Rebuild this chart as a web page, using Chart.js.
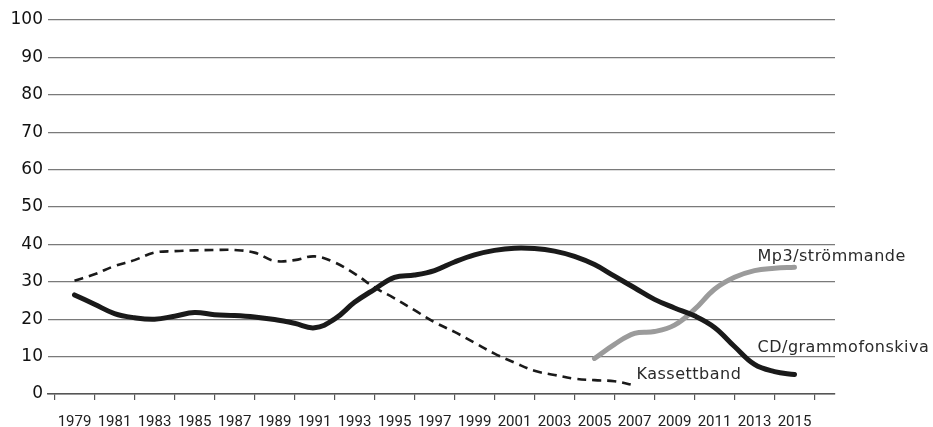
<!DOCTYPE html>
<html>
<head>
<meta charset="utf-8">
<script src="https://cdn.jsdelivr.net/npm/chart.js@4"></script>
<style>
    html, body { margin: 0; padding: 0; background: #fff; }
    #wrap { width: 933px; height: 427px; }
</style>
</head>
<body>
<div id="wrap"><canvas id="charts"></canvas></div>
<script>
// andel (%) per år
let cdStart = 1979
let cdShare = [26.5, 24.0, 21.5, 20.4, 20.0, 20.8, 21.8, 21.2, 21.0, 20.6,
    19.9, 18.9, 17.7, 20.0, 24.5, 28.0, 31.2, 31.8, 33.0, 35.3,
    37.2, 38.4, 39.0, 38.9, 38.2, 36.8, 34.6, 31.5, 28.4, 25.3,
    23.0, 20.9, 17.8, 12.7, 7.9, 6.0, 5.2]

let kassettStart = 1979
let kassettShare = [30.3, 32.0, 34.2, 35.8, 37.8, 38.2, 38.4, 38.5, 38.5, 37.8,
    35.6, 35.8, 36.8, 35.2, 32.2, 28.5, 25.6, 22.4, 19.2, 16.6,
    13.7, 10.8, 8.4, 6.2, 5.1, 4.1, 3.7, 3.4, 2.3]

let mp3Start = 2005
let mp3Share = [9.5, 13.3, 16.2, 16.7, 18.4, 22.6, 28.0, 31.2, 33.0, 33.6, 33.9]

let seriesNames = ['CD/grammofonskiva', 'Kassettband', 'Mp3/strömmande']
let yTicks = [0, 10, 20, 30, 40, 50, 60, 70, 80, 90, 100]
let tickYears = []
for (let y = 1978; y <= 2016; y++) tickYears.push(y)

function points(start, values){
    return values.map((v, i) => ({x: start + i, y: v}))
}

// etiketter vid linjernas slut
let endLabels = {
    id: 'endLabels',
    afterDatasetsDraw(chart){
        let ctx = chart.ctx
        let offsets = [[-37, -23], [2, -6], [-37, -6.5]]
        ctx.save()
        ctx.font = '16px "DejaVu Sans"'
        ctx.letterSpacing = '0.5px'
        ctx.fillStyle = '#2a2a2a'
        ctx.textAlign = 'left'
        ctx.textBaseline = 'alphabetic'
        chart.data.datasets.forEach((ds, i) => {
            let meta = chart.getDatasetMeta(i)
            let last = meta.data[meta.data.length - 1]
            ctx.fillText(ds.label, last.x + offsets[i][0], last.y + offsets[i][1])
        })
        ctx.restore()
    }
}

let ctx = document.getElementById('charts').getContext('2d')
window.chart = new Chart(ctx, {
    type: 'line',
    data: {
        datasets: [
            {
                label: seriesNames[0],
                data: points(cdStart, cdShare),
                borderColor: '#1a1a1a',
                borderWidth: 5,
                borderCapStyle: 'round',
                tension: 0.4,
                pointRadius: 0
            },
            {
                label: seriesNames[1],
                data: points(kassettStart, kassettShare),
                borderColor: '#1a1a1a',
                borderWidth: 2.6,
                borderDash: [9, 6],
                tension: 0.4,
                pointRadius: 0
            },
            {
                label: seriesNames[2],
                data: points(mp3Start, mp3Share),
                borderColor: '#9b9b9b',
                borderWidth: 5,
                borderCapStyle: 'round',
                tension: 0.4,
                pointRadius: 0
            }
        ]
    },
    options: {
        responsive: true,
        maintainAspectRatio: false,
        animation: false,
        layout: {
            padding: {top: 20, right: 98, left: 0, bottom: 0}
        },
        plugins: {
            legend: {display: false},
            tooltip: {enabled: false}
        },
        scales: {
            x: {
                type: 'linear',
                min: 1977.675,
                max: 2017.025,
                afterBuildTicks: s => { s.ticks = tickYears.map(v => ({value: v})) },
                afterFit: s => { s.height = 33 },
                border: {color: '#555', width: 1.5},
                grid: {
                    drawOnChartArea: false,
                    tickLength: 6,
                    lineWidth: 1.2,
                    color: c => (c.tick && c.tick.value % 2 === 0) ? '#555' : 'rgba(0,0,0,0)'
                },
                ticks: {
                    autoSkip: false,
                    maxRotation: 0,
                    padding: 13,
                    color: '#222',
                    font: {family: 'Roboto', size: 15},
                    callback: v => (v % 2 === 1) ? String(v) : ''
                }
            },
            y: {
                min: 0,
                max: 100,
                afterBuildTicks: s => { s.ticks = yTicks.map(v => ({value: v})) },
                afterFit: s => { s.width = 48 },
                border: {display: false},
                grid: {
                    drawTicks: false,
                    color: '#7a7a7a',
                    lineWidth: 1.2
                },
                ticks: {
                    padding: 5,
                    color: '#111',
                    font: {family: 'DejaVu Sans', size: 17}
                }
            }
        }
    },
    plugins: [endLabels]
})
</script>
</body>
</html>
